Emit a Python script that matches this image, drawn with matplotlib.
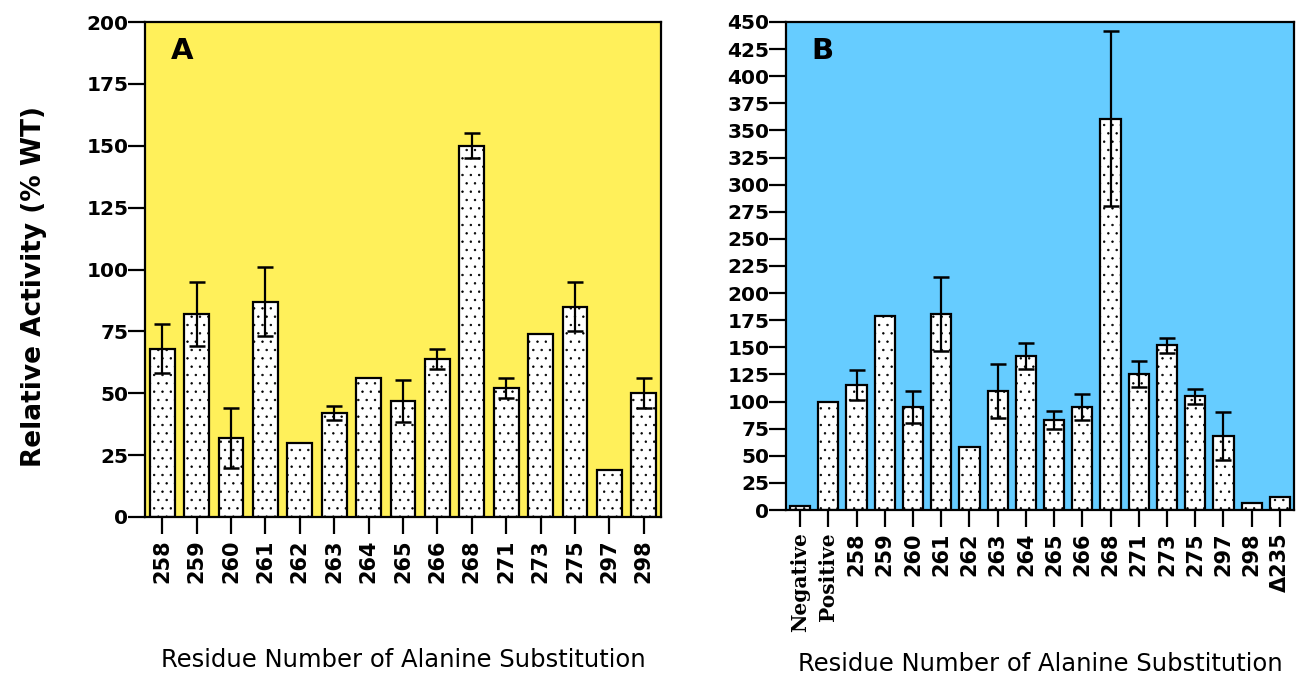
import matplotlib
matplotlib.use("Agg")
import matplotlib.pyplot as plt
import numpy as np

plt.rcParams['hatch.linewidth'] = 0.5

# Panel A data
a_labels = ["258", "259", "260", "261", "262", "263", "264", "265", "266", "268",
            "271", "273", "275", "297", "298"]
a_values = [68, 82, 32, 87, 30, 42, 56, 47, 64, 150, 52, 74, 85, 19, 50]
a_errors = [10, 13, 12, 14, 0, 3, 0, 8.5, 4, 5, 4, 0, 10, 0, 6]

# Panel B data
b_labels = ["Negative", "Positive", "258", "259", "260", "261", "262", "263", "264",
            "265", "266", "268", "271", "273", "275", "297", "298", "\u0394235"]
b_values = [4, 100, 115, 179, 95, 181, 58, 110, 142, 83, 95, 361, 125, 152, 105, 68, 6, 12]
b_errors = [0, 0, 14, 0, 15, 34, 0, 25, 12, 8, 12, 81, 12, 7, 7, 22, 0, 0]

fig = plt.figure(figsize=(12.96, 6.76), dpi=100)

W, H = 1296, 676
def rect(l, t, r, b):
    return [l / W, 1 - b / H, (r - l) / W, (b - t) / H]

axA = fig.add_axes(rect(145, 22, 661, 517))
axB = fig.add_axes(rect(786, 22, 1294, 510))

def draw(ax, labels, values, errors, ymax, step, bg, letter, serif_first=0):
    x = np.arange(len(values))
    ax.set_facecolor(bg)
    ax.bar(x, values, width=0.72, color="white", edgecolor="black",
           linewidth=1.6, hatch="..", zorder=2)
    xe = [i for i, e in enumerate(errors) if e > 0]
    ax.errorbar([x[i] for i in xe], [values[i] for i in xe],
                yerr=[errors[i] for i in xe], fmt="none", ecolor="black",
                elinewidth=1.6, capsize=6, capthick=1.8, zorder=3)
    ax.set_xlim(-0.5, len(values) - 0.5)
    ax.set_ylim(0, ymax)
    yt = np.arange(0, ymax + 1, step)
    ax.set_yticks(yt)
    ax.set_yticklabels([str(v) for v in yt], fontsize=14.5, fontweight="bold")
    ax.set_xticks(x)
    ax.set_xticklabels(labels, rotation=90, fontsize=15, fontweight="bold",
                       family="DejaVu Sans")
    for i, t in enumerate(ax.get_xticklabels()):
        if i < serif_first:
            t.set_family("DejaVu Serif")
            t.set_fontsize(14.5)
    ax.tick_params(axis="x", length=12, width=1.6, pad=4)
    ax.tick_params(axis="y", length=12, width=1.6, pad=0)
    for s in ax.spines.values():
        s.set_linewidth(1.6)
    ax.text(0.05, 0.97, letter, transform=ax.transAxes, fontsize=21,
            fontweight="bold", va="top", ha="left")
    ax.set_xlabel("Residue Number of Alanine Substitution", fontsize=17.5)

draw(axA, a_labels, a_values, a_errors, 200, 25, "#FFF05A", "A")
draw(axB, b_labels, b_values, b_errors, 450, 25, "#66CCFF", "B", serif_first=2)
axA.set_ylabel("Relative Activity (% WT)", fontsize=19, fontweight="bold")
axA.yaxis.set_label_coords(-0.19, 0.465)
axA.xaxis.set_label_coords(0.5, -0.265)
axB.xaxis.set_label_coords(0.5, -0.29)

fig.savefig("out.png", dpi=100)
